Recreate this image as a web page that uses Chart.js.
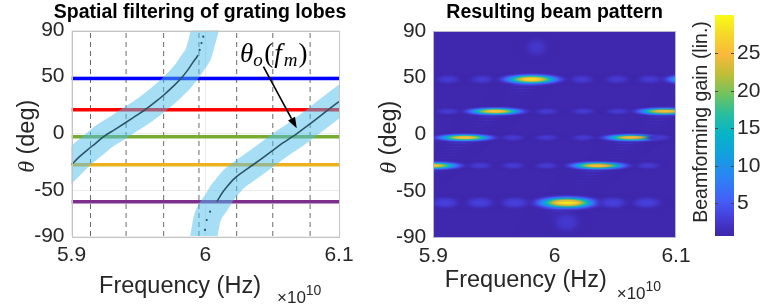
<!DOCTYPE html>
<html>
<head>
<meta charset="utf-8">
<script src="https://cdn.jsdelivr.net/npm/chart.js@4.4.1/dist/chart.umd.min.js"></script>
<style>
  html, body { margin: 0; padding: 0; background: #fff; width: 764px; height: 305px; overflow: hidden; }
  #left { position: absolute; left: 0; top: 0; }
  #right { position: absolute; left: 360px; top: 0; }
</style>
</head>
<body>
<canvas id="left" width="380" height="305"></canvas>
<canvas id="right" width="404" height="305"></canvas>
<script>
// ---- data (frequency in units of 1e10 Hz, angles in deg) ----
const freqTicks = [5.9, 6.0, 6.1];
const thetaTicks = [-90, -50, 0, 50, 90];
const gainTicks = [5, 10, 15, 20, 25];

// steering directions (horizontal lines)
const steerAngles = [48, 20.5, -3, -27.5, -60];

// subcarrier frequencies f_m (dashed lines)
const subFreqs = [5.9142, 5.9408, 5.9689, 5.9953, 6.0235, 6.0505, 6.0784];

// grating lobe direction theta_o(f), two branches
const lobeAFreq  = [5.900, 5.906, 5.912, 5.918, 5.924, 5.932, 5.940, 5.948, 5.955, 5.962, 5.969, 5.976, 5.982, 5.987, 5.991, 5.9945, 5.9958, 5.9972, 5.9985];
const lobeATheta = [-27.5, -20.5, -14.5, -8.8, -3.0, 3.0, 9.0, 15.2, 20.6, 26.8, 33.5, 41.0, 48.2, 55.5, 62.5, 68.5, 73, 79, 84.6];
const lobeBFreq  = [5.9998, 6.0011, 6.0036, 6.0087, 6.0125, 6.0165, 6.0215, 6.028, 6.0355, 6.043, 6.050, 6.058, 6.0655, 6.0735, 6.082, 6.0908, 6.1];
const lobeBTheta = [-84.7, -76, -68.7, -59.9, -52.5, -46.5, -40, -34, -27.8, -21.5, -15.5, -8.5, -2.8, 4, 11.5, 19.5, 27.8];

// beam pattern peaks (lin. gain)
const peakFreq  = [5.981, 5.951, 5.926, 5.899, 6.010, 6.036, 6.064, 6.091, 6.116,
                   5.9121, 5.9401, 6.0225, 6.0514, 6.0784,
                   5.9121, 5.9934, 6.0234, 6.052,
                   5.9657, 5.9934, 6.0234, 6.086,
                   5.9385, 5.9657, 5.9934, 6.077,
                   5.9096, 5.9385, 5.9673, 6.048, 6.076,
                   5.985, 6.010];
const peakTheta = [48, 20, -3, -27.5, -60, -27.5, -3, 20, 48,
                   48, 48, 48, 48, 48,
                   20, 20, 20, 20,
                   -3, -3, -3, -3,
                   -27.5, -27.5, -27.5, -27.5,
                   -60, -60, -60, -60, -60,
                   76, -77];
const peakGain  = [27.5, 26.5, 26, 25.5, 29.5, 27, 26.5, 27, 27,
                   2.8, 2.8, 2.8, 2.8, 2.8,
                   2.8, 2.8, 2.8, 2.8,
                   2.8, 2.8, 2.8, 2.8,
                   2.8, 2.8, 2.8, 2.8,
                   3.3, 3.3, 3.3, 3.3, 3.3,
                   2.4, 2.6];

// ---- styling ----
const H = 305;
const sans = '"Liberation Sans", Arial, Helvetica, sans-serif';
const serif = '"Liberation Serif", "Times New Roman", serif';
const ink = '#262626';
const steerColors = ['#0000ff', '#ff0000', '#77ac30', '#edb120', '#7e2f8e'];
const curveColor = '#2b5566';
const bandColor = 'rgba(77,190,238,0.5)';
const cMin = 0.64, cMax = 30.1, bgGain = 0.9;

const parulaStops = [
  [0.00, 62, 38, 168], [0.08, 70, 60, 215], [0.16, 68, 95, 248], [0.26, 45, 130, 245],
  [0.36, 20, 158, 225], [0.46, 5, 180, 200], [0.55, 40, 190, 160], [0.64, 110, 195, 95],
  [0.73, 190, 190, 55], [0.82, 250, 185, 60], [0.91, 245, 215, 40], [1.00, 249, 251, 20]
];
function parula(t) {
  t = Math.max(0, Math.min(1, t));
  for (let i = 1; i < parulaStops.length; i++) {
    const a = parulaStops[i - 1], b = parulaStops[i];
    if (t <= b[0]) {
      const u = (t - a[0]) / (b[0] - a[0]);
      return [a[1] + u * (b[1] - a[1]), a[2] + u * (b[2] - a[2]), a[3] + u * (b[3] - a[3])];
    }
  }
  return parulaStops[parulaStops.length - 1].slice(1);
}
const gainT = g => (g - cMin) / (cMax - cMin);
const rgb = c => `rgb(${c.map(Math.round).join(',')})`;

function xScale(area, showGrid) {
  return {
    type: 'linear', min: freqTicks[0], max: freqTicks[freqTicks.length - 1],
    afterBuildTicks: s => { s.ticks = freqTicks.map(v => ({ value: v })); },
    afterFit: s => { s.height = H - area.bottom; },
    ticks: { font: { family: sans, size: 21 }, color: ink, padding: 7, maxRotation: 0, autoSkip: false,
             callback: v => String(+v.toFixed(2)) },
    grid: { display: showGrid, color: '#ececec', drawTicks: false },
    border: { display: false }
  };
}
function yScale(area, showGrid) {
  return {
    type: 'linear', min: thetaTicks[0], max: thetaTicks[thetaTicks.length - 1],
    afterBuildTicks: s => { s.ticks = thetaTicks.map(v => ({ value: v })); },
    afterFit: s => { s.width = area.left; },
    ticks: { font: { family: sans, size: 21 }, color: ink, padding: 7, autoSkip: false },
    grid: { display: showGrid, color: '#ececec', drawTicks: false },
    border: { display: false }
  };
}

// shared text helpers
function drawTitle(ctx, text, cx) {
  ctx.save();
  ctx.font = 'bold 19.5px ' + sans;
  ctx.fillStyle = '#000';
  ctx.textAlign = 'center';
  ctx.textBaseline = 'middle';
  ctx.fillText(text, cx, 13);
  ctx.restore();
}
function drawThetaLabel(ctx, cx, cy) {
  ctx.save();
  ctx.translate(cx, cy);
  ctx.rotate(-Math.PI / 2);
  const f1 = 'italic 24px ' + serif, f2 = '23.5px ' + sans;
  ctx.font = f1; const w1 = ctx.measureText('θ').width;
  ctx.font = f2; const w2 = ctx.measureText(' (deg)').width;
  let x = -(w1 + w2) / 2;
  ctx.fillStyle = ink;
  ctx.textBaseline = 'alphabetic';
  ctx.font = f1; ctx.fillText('θ', x, 7);
  ctx.font = f2; ctx.fillText(' (deg)', x + w1, 7);
  ctx.restore();
}
function drawFreqLabel(ctx, cx, baseY, expX, expY) {
  ctx.save();
  ctx.fillStyle = ink;
  ctx.textBaseline = 'alphabetic';
  ctx.textAlign = 'center';
  ctx.font = '23.5px ' + sans;
  ctx.fillText('Frequency (Hz)', cx, baseY);
  ctx.textAlign = 'left';
  ctx.font = '17px ' + sans;
  ctx.fillText('×10', expX, expY);
  const w = ctx.measureText('×10').width;
  ctx.font = '14px ' + sans;
  ctx.fillText('10', expX + w, expY - 8);
  ctx.restore();
}
function drawBox(ctx, a, color) {
  ctx.save();
  ctx.strokeStyle = color;
  ctx.lineWidth = 1;
  ctx.strokeRect(Math.round(a.left) + 0.5, Math.round(a.top) + 0.5,
                 Math.round(a.right - a.left) - 1, Math.round(a.bottom - a.top));
  ctx.restore();
}

// ================= left: spatial filtering =================
const leftArea = { left: 71.5, top: 30.5, right: 339, bottom: 236 };
const leftDatasets = [];
subFreqs.forEach(f => leftDatasets.push({
  data: [{ x: f, y: thetaTicks[0] }, { x: f, y: thetaTicks[thetaTicks.length - 1] }],
  borderColor: '#6a6a6a', borderWidth: 1, borderDash: [5, 4], pointRadius: 0, order: 5, clip: 0
}));
steerAngles.forEach((a, i) => leftDatasets.push({
  data: [{ x: freqTicks[0], y: a }, { x: freqTicks[freqTicks.length - 1], y: a }],
  borderColor: steerColors[i], borderWidth: 3.5, pointRadius: 0, order: 4, clip: 0
}));
[[lobeAFreq, lobeATheta], [lobeBFreq, lobeBTheta]].forEach(([fs, ts]) => {
  const pts = fs.map((f, i) => ({ x: f, y: ts[i] }));
  const isTail = th => th > 70 || th < -65;
  leftDatasets.push({
    data: pts, borderColor: bandColor, borderWidth: 27, borderCapStyle: 'square',
    cubicInterpolationMode: 'monotone', pointRadius: 0, order: 3, clip: 0
  });
  leftDatasets.push({
    data: pts, borderColor: curveColor, borderWidth: 1.6, cubicInterpolationMode: 'monotone',
    pointRadius: ctx => isTail(ts[ctx.dataIndex]) ? 1.1 : 0,
    pointBackgroundColor: curveColor, pointBorderWidth: 0,
    segment: { borderColor: ctx => isTail(ts[ctx.p1DataIndex]) || isTail(ts[ctx.p0DataIndex]) ? 'transparent' : curveColor },
    order: 2, clip: 0
  });
});

const leftDecor = {
  id: 'leftDecor',
  afterDraw(chart) {
    const { ctx, chartArea: a, scales: { x, y } } = chart;
    drawBox(ctx, a, '#c4c4c4');
    drawTitle(ctx, 'Spatial filtering of grating lobes', 200);
    drawThetaLabel(ctx, 27, (a.top + a.bottom) / 2 + 3);
    drawFreqLabel(ctx, 180, 293, 277, 303);

    // annotation theta_o(f_m) with arrow
    ctx.save();
    const tx = x.getPixelForValue(6.026), ty = y.getPixelForValue(62.4);
    ctx.fillStyle = '#000';
    ctx.textBaseline = 'alphabetic';
    let cx = tx;
    const put = (s, font, dy) => { ctx.font = font; ctx.fillText(s, cx, ty + dy); cx += ctx.measureText(s).width; };
    put('θ', 'italic 27px ' + serif, 0);
    put('o', 'italic 19px ' + serif, 4);
    cx += 1.5;
    put('(', '27px ' + serif, 0);
    cx += 1;
    put('f', 'italic 27px ' + serif, 0);
    cx += 2;
    put('m', 'italic 19px ' + serif, 4);
    cx += 1;
    put(')', '27px ' + serif, 0);
    const x0 = x.getPixelForValue(6.0435), y0 = y.getPixelForValue(58.3);
    const x1 = x.getPixelForValue(6.0684), y1 = y.getPixelForValue(4.3);
    const ang = Math.atan2(y1 - y0, x1 - x0);
    const hl = 11, hw = 4;
    ctx.strokeStyle = '#000';
    ctx.lineWidth = 1.6;
    ctx.beginPath();
    ctx.moveTo(x0, y0);
    ctx.lineTo(x1 - hl * Math.cos(ang), y1 - hl * Math.sin(ang));
    ctx.stroke();
    ctx.beginPath();
    ctx.moveTo(x1, y1);
    ctx.lineTo(x1 - hl * Math.cos(ang) + hw * Math.sin(ang), y1 - hl * Math.sin(ang) - hw * Math.cos(ang));
    ctx.lineTo(x1 - hl * Math.cos(ang) - hw * Math.sin(ang), y1 - hl * Math.sin(ang) + hw * Math.cos(ang));
    ctx.closePath();
    ctx.fill();
    ctx.restore();
  }
};

new Chart(document.getElementById('left'), {
  type: 'line',
  data: { datasets: leftDatasets },
  options: {
    responsive: false, animation: false, events: [],
    layout: { autoPadding: false, padding: { left: 0, top: leftArea.top, right: 380 - leftArea.right, bottom: 0 } },
    plugins: { legend: { display: false }, tooltip: { enabled: false } },
    scales: { x: xScale(leftArea, true), y: yScale(leftArea, true) }
  },
  plugins: [leftDecor]
});

// ================= right: beam pattern =================
const rightArea = { left: 73.3, top: 31.3, right: 316, bottom: 237 };
const cbar = { left: 355, right: 374, top: 15, bottom: 236 };

// blob image for one peak: flat-topped elliptical spot, width grows with |theta|
function makeBlob(gain, theta) {
  const main = gain > 10;
  const c = Math.pow(Math.cos(theta * Math.PI / 180), 0.8);
  const sy = (main ? 2.7 : 2.9) / c;
  const sx = main ? (theta < -45 ? 23 : 21.5) : (theta < -45 ? 13 : 11);
  const hw = Math.ceil(sx * 2) + (main ? 30 : 0), hh = main ? 42 : Math.ceil(sy * 2.5);
  const cv = document.createElement('canvas');
  cv.width = 2 * hw + 1; cv.height = 2 * hh + 1;
  const g2 = cv.getContext('2d');
  const img = g2.createImageData(cv.width, cv.height);
  for (let j = 0; j < cv.height; j++) {
    for (let i = 0; i < cv.width; i++) {
      const dx = i - hw, dy = j - hh;
      const r = Math.sqrt((dx * dx) / (sx * sx) + (dy * dy) / (sy * sy));
      let g = (gain - bgGain) * Math.exp(-Math.pow(r, 2.6));
      if (main && dy > sy) {
        // faint ripple trailing toward the lower left
        const ox = dx + dy * 0.9;
        g += 1.6 * Math.exp(-(ox * ox) / 220) * Math.exp(-(dy - sy) / 14) * Math.pow(Math.cos(Math.PI * dy / 3), 2);
      }
      const col = parula(gainT(bgGain + g));
      const k = (j * cv.width + i) * 4;
      img.data[k] = col[0]; img.data[k + 1] = col[1]; img.data[k + 2] = col[2];
      img.data[k + 3] = Math.round(255 * Math.min(1, g / 1.2));
    }
  }
  g2.putImageData(img, 0, 0);
  return cv;
}
const blobImgs = peakGain.map((g, i) => makeBlob(g, peakTheta[i]));

const rightDecor = {
  id: 'rightDecor',
  beforeDatasetsDraw(chart) {
    const { ctx, chartArea: a } = chart;
    ctx.save();
    ctx.fillStyle = rgb(parula(gainT(bgGain)));
    ctx.fillRect(a.left, a.top, a.right - a.left, a.bottom - a.top);
    ctx.restore();
  },
  afterDraw(chart) {
    const { ctx, chartArea: a } = chart;
    drawBox(ctx, a, '#b9b6d6');
    drawTitle(ctx, 'Resulting beam pattern', (a.left + a.right) / 2);
    drawThetaLabel(ctx, a.left - 44, (a.top + a.bottom) / 2 + 3);
    drawFreqLabel(ctx, a.left + 92.5, 287, 256.7, 299);

    // colorbar
    ctx.save();
    const cy = v => cbar.top + (cMax - v) / (cMax - cMin) * (cbar.bottom - cbar.top);
    for (let yy = cbar.top; yy < cbar.bottom; yy++) {
      const v = cMax - (yy + 0.5 - cbar.top) / (cbar.bottom - cbar.top) * (cMax - cMin);
      ctx.fillStyle = rgb(parula(gainT(v)));
      ctx.fillRect(cbar.left, yy, cbar.right - cbar.left, 1);
    }
    ctx.strokeStyle = '#444';
    ctx.lineWidth = 1;
    ctx.fillStyle = ink;
    ctx.font = '21px ' + sans;
    ctx.textAlign = 'left';
    ctx.textBaseline = 'middle';
    gainTicks.forEach(v => {
      const yy = Math.round(cy(v)) + 0.5;
      ctx.beginPath();
      ctx.moveTo(cbar.left, yy); ctx.lineTo(cbar.left + 3, yy);
      ctx.moveTo(cbar.right, yy); ctx.lineTo(cbar.right - 3, yy);
      ctx.stroke();
      ctx.fillText(String(v), cbar.right + 3, cy(v));
    });
    ctx.translate(341.5, 122);
    ctx.rotate(-Math.PI / 2);
    ctx.textAlign = 'center';
    ctx.font = '19.5px ' + sans;
    ctx.fillText('Beamforming gain (lin.)', 0, 0);
    ctx.restore();
  }
};

new Chart(document.getElementById('right'), {
  type: 'scatter',
  data: {
    datasets: [{
      data: peakFreq.map((f, i) => ({ x: f, y: peakTheta[i] })),
      pointStyle: ctx => blobImgs[ctx.dataIndex],
      pointRadius: 60, clip: 0
    }]
  },
  options: {
    responsive: false, animation: false, events: [],
    layout: { autoPadding: false, padding: { left: 0, top: rightArea.top, right: 404 - rightArea.right, bottom: 0 } },
    plugins: { legend: { display: false }, tooltip: { enabled: false } },
    scales: { x: xScale(rightArea, false), y: yScale(rightArea, false) }
  },
  plugins: [rightDecor]
});
</script>
</body>
</html>
